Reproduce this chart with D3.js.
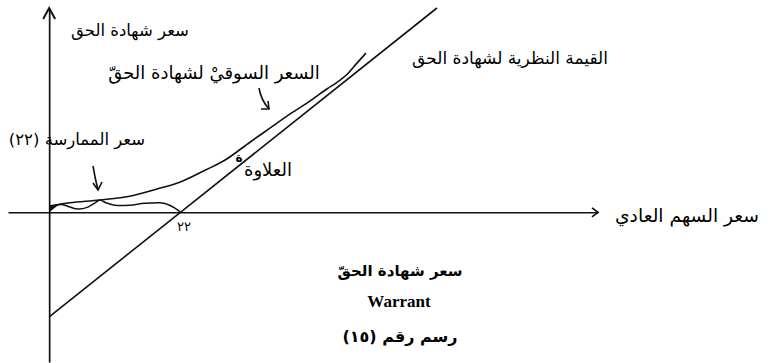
<!DOCTYPE html>
<html lang="ar">
<head>
<meta charset="utf-8">
<script src="https://cdn.jsdelivr.net/npm/d3@7/dist/d3.min.js"></script>
<style>
  html, body { margin: 0; padding: 0; background: #fff; }
  svg { display: block; }
  .ar { font-family: "DejaVu Sans", sans-serif; fill: #000; }
</style>
</head>
<body>
<svg id="chart" width="771" height="363"></svg>
<script>
// Exercise price of the warrant
const exercisePrice = 22;

// Theoretical value of the warrant: straight line, value = stock price − exercise price
const theoStock = [0, 22, 65];
const theoValue = [-22, 0, 43];

// Market price of the warrant
const marketStock = [0, 3.5, 8.5, 13.5, 18.6, 22, 26.2, 29.5, 33.7, 37, 40.4, 43.7, 46.6, 48.2, 49.9, 51.6, 53.1];
const marketValue = [1.3, 2.0, 2.6, 3.4, 5.1, 6.4, 8.9, 11.0, 14.8, 17.7, 20.7, 23.4, 26.0, 27.3, 29.0, 31.4, 33.5];

// Wavy curve between the origin and the exercise price
const lowStock = [0.1, 1.1, 2.3, 3.5, 4.8, 6.5, 7.7, 8.5, 9.5, 11, 13.5, 16, 18.6, 20.2, 21.2, 22];
const lowValue = [1.1, 1.5, 1.6, 1.1, 0.7, 1.1, 2.0, 2.6, 2.0, 1.5, 1.5, 1.9, 2.0, 1.5, 0.8, 0.05];

// Axis tick labels
const xTickValues = [22];
const xTickLabels = ["٢٢"];

const svg = d3.select("#chart");

const x = d3.scaleLinear().domain([-6.9, 92]).range([8, 598]);
const y = d3.scaleLinear().domain([-31.5, 43]).range([362, 8]);

const ink = "#111";

// Horizontal axis (stock price)
const xAxis = d3.axisBottom(x)
  .tickValues(xTickValues)
  .tickSize(0)
  .tickSizeOuter(0)
  .tickPadding(8)
  .tickFormat((d, i) => xTickLabels[i]);

const gx = svg.append("g")
  .attr("transform", `translate(0,${y(0)})`)
  .call(xAxis);
gx.select(".domain").attr("stroke", ink).attr("stroke-width", 1.6);
gx.selectAll(".tick text")
  .attr("class", "ar")
  .attr("font-size", 13)
  .attr("dx", 3)
  .attr("dy", "0.85em");

// Vertical axis (warrant price)
const gy = svg.append("g")
  .attr("transform", `translate(${x(0)},0)`)
  .call(d3.axisLeft(y).tickValues([]).tickSize(0).tickSizeOuter(0));
gy.select(".domain").attr("stroke", ink).attr("stroke-width", 1.7);

// Arrow heads at the axis ends
svg.append("path")
  .attr("d", `M${x(0) - 6},${y(43) + 11} L${x(0)},${y(43)} L${x(0) + 6},${y(43) + 11}`)
  .attr("fill", "none").attr("stroke", ink).attr("stroke-width", 2);
svg.append("path")
  .attr("d", `M${x(92) - 6},${y(0) - 4.5} L${x(92)},${y(0)} L${x(92) - 6},${y(0) + 4.5}`)
  .attr("fill", "none").attr("stroke", ink).attr("stroke-width", 1.7);

const line = d3.line().x(d => x(d[0])).y(d => y(d[1]));

// Theoretical value line
svg.append("path")
  .datum(d3.zip(theoStock, theoValue))
  .attr("d", line.curve(d3.curveLinear))
  .attr("fill", "none").attr("stroke", ink).attr("stroke-width", 1.6);

// Market price curve
svg.append("path")
  .datum(d3.zip(marketStock, marketValue))
  .attr("d", line.curve(d3.curveCatmullRom.alpha(0.5)))
  .attr("fill", "none").attr("stroke", ink).attr("stroke-width", 1.6);

// Wavy lower curve
svg.append("path")
  .datum(d3.zip(lowStock, lowValue))
  .attr("d", line.curve(d3.curveCatmullRom.alpha(0.5)))
  .attr("fill", "none").attr("stroke", ink).attr("stroke-width", 1.5);

// Small solid wedge where the curves leave the origin
svg.append("path")
  .attr("d", `M${x(0)},${y(0)} L${x(0)},${y(1.4)} L${x(1.5)},${y(1.5)} Z`)
  .attr("fill", ink);

// Pointer arrows
svg.append("path")
  .attr("d", "M93,166 Q95,178 98,190")
  .attr("fill", "none").attr("stroke", ink).attr("stroke-width", 1.6);
svg.append("path")
  .attr("d", "M93,183 L98,190 L102,182")
  .attr("fill", "none").attr("stroke", ink).attr("stroke-width", 1.6);

svg.append("path")
  .attr("d", "M259,88 Q261,100 269,109")
  .attr("fill", "none").attr("stroke", ink).attr("stroke-width", 1.6);
svg.append("path")
  .attr("d", "M261,109 L269,109 L268,101")
  .attr("fill", "none").attr("stroke", ink).attr("stroke-width", 1.6);

// Labels
const labels = [
  { t: "سعر شهادة الحق", x: 130, y: 36, s: 16.5, w: "normal" },
  { t: "السعر السوقيْ لشهادة الحقّ", x: 214, y: 79, s: 18, w: "normal" },
  { t: "القيمة النظرية لشهادة الحق", x: 510, y: 64, s: 17, w: "normal" },
  { t: "سعر الممارسة (٢٢)", x: 77, y: 145, s: 16.5, w: "normal" },
  { t: "العلاوة", x: 268, y: 176, s: 18, w: "normal" },
  { t: "ة", x: 239, y: 162, s: 12, w: "bold" },
  { t: "سعر السهم العادي", x: 687, y: 222, s: 18.7, w: "normal" },
  { t: "سعر شهادة الحقّ", x: 400, y: 276, s: 15, w: "bold" },
  { t: "رسم رقم (١٥)", x: 400, y: 342, s: 16, w: "bold" }
];

svg.selectAll("text.lbl")
  .data(labels)
  .join("text")
  .attr("class", "lbl ar")
  .attr("x", d => d.x)
  .attr("y", d => d.y)
  .attr("direction", "rtl")
  .attr("text-anchor", "middle")
  .attr("font-size", d => d.s)
  .attr("font-weight", d => d.w)
  .text(d => d.t);

svg.append("text")
  .attr("x", 399).attr("y", 307)
  .attr("text-anchor", "middle")
  .attr("font-family", "'Liberation Serif', serif")
  .attr("font-weight", "bold")
  .attr("font-size", 17)
  .attr("fill", "#000")
  .text("Warrant");
</script>
</body>
</html>
